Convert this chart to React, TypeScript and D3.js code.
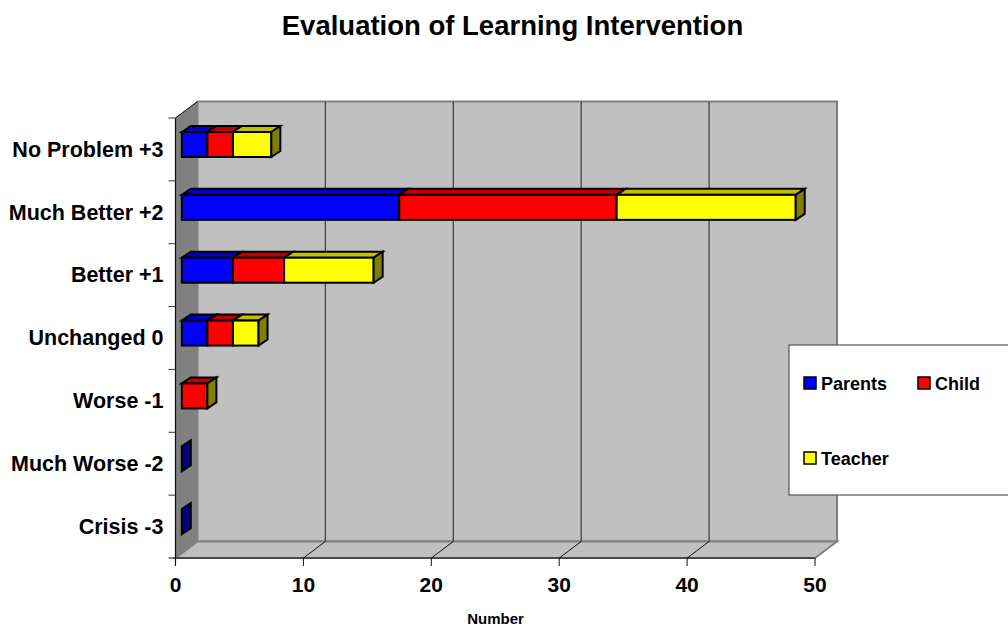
import React from "react";
import * as d3 from "d3";

const categories = ["No Problem +3", "Much Better +2", "Better +1", "Unchanged 0", "Worse -1", "Much Worse -2", "Crisis -3"];
const seriesNames = ["Parents", "Child", "Teacher"];
const parents = [2, 17, 4, 2, 0, 0, 0];
const child = [2, 17, 4, 2, 2, 0, 0];
const teacher = [3, 14, 7, 2, 0, 0, 0];
const xTicks = [0, 10, 20, 30, 40, 50];
const colors = ["#0000ff", "#ff0000", "#ffff00"];
const topColors = ["#0000c0", "#c00000", "#c0c000"];
const sideColors = ["#000080", "#800000", "#808000"];

const font = "Liberation Sans, Arial, sans-serif";
const X0 = 175.5, X1 = 815, YT = 118, YB = 558, DX = 22, DY = -16.5;
const BDX = 9, BDY = -6, BAR_OFF = 6.3, BAR_H = 25;

export default function App() {
  const x = d3.scaleLinear().domain([0, 50]).range([X0, X1]);
  const y = d3.scaleBand().domain(categories).range([YT, YB]);
  const unit = x(1) - x(0);
  const rows = categories.map((c, i) => {
    const vals = [parents[i], child[i], teacher[i]];
    const stack = d3.stack().keys(["0", "1", "2"])([{ 0: vals[0], 1: vals[1], 2: vals[2] }] as any);
    return { c, i, segs: stack.map((s, k) => ({ k, a: s[0][0], b: s[0][1] })) };
  });
  const poly = (p: number[][]) => p.map((q) => q.join(",")).join(" ");
  const barStroke = { stroke: "#000", strokeWidth: 2, strokeLinejoin: "miter" as const };
  return (
    <svg width={1008} height={628} style={{ position: "absolute", left: 0, top: 0, fontFamily: font }}>
      <rect width={1008} height={628} fill="#fff" />
      <text x={512.5} y={35} textAnchor="middle" fontSize={27.5} fontWeight="bold">Evaluation of Learning Intervention</text>

      {/* walls */}
      <polygon points={poly([[X0 + DX, YT + DY], [X1 + DX, YT + DY], [X1 + DX, YB + DY], [X0 + DX, YB + DY]])} fill="#c0c0c0" stroke="#808080" strokeWidth={2} />
      <polygon points={poly([[X0, YT], [X0 + DX, YT + DY], [X0 + DX, YB + DY], [X0, YB]])} fill="#808080" stroke="#808080" />
      <polygon points={poly([[X0, YB], [X0 + DX, YB + DY], [X1 + DX, YB + DY], [X1, YB]])} fill="#c0c0c0" stroke="#808080" strokeWidth={2} />

      {/* gridlines */}
      {xTicks.slice(1, -1).map((t) => (
        <g key={t}>
          <line x1={x(t) + DX} x2={x(t) + DX} y1={YT + DY} y2={YB + DY} stroke="#444" strokeWidth={1.3} />
          <line x1={x(t)} x2={x(t) + DX} y1={YB} y2={YB + DY} stroke="#111" strokeWidth={1} />
        </g>
      ))}

      {/* axes */}
      <line x1={X0} x2={X0} y1={YT} y2={YB + 7} stroke="#111" strokeWidth={1.2} />
      <line x1={X0 - 7} x2={X1} y1={YB} y2={YB} stroke="#111" strokeWidth={1.2} />
      <line x1={X0} x2={X0 + DX} y1={YT} y2={YT + DY} stroke="#111" />
      {categories.map((c) => (
        <line key={c} x1={X0 - 7} x2={X0} y1={y(c)!} y2={y(c)!} stroke="#333" />
      ))}
      {xTicks.map((t) => (
        <g key={t}>
          <line x1={x(t)} x2={x(t)} y1={YB} y2={YB + 8} stroke="#111" />
          <text x={x(t)} y={592} textAnchor="middle" fontSize={21} fontWeight="bold">{t}</text>
        </g>
      ))}
      {categories.map((c) => (
        <text key={c} x={163.5} y={y(c)! + y.bandwidth() / 2 + 7.3} textAnchor="end" fontSize={21.5} fontWeight="bold">{c}</text>
      ))}
      <text x={495.5} y={624} textAnchor="middle" fontSize={15} fontWeight="bold">Number</text>

      {/* bars */}
      {rows.map(({ c, segs }) => {
        const left = x(0) + BAR_OFF;
        const top = y(c)! + 14;
        const bot = top + BAR_H;
        const total = segs[2].b;
        if (total === 0) {
          return (
            <polygon key={c} points={poly([[left, bot], [left, top], [left + BDX, top + BDY], [left + BDX, bot + BDY]])} fill={sideColors[0]} {...barStroke} />
          );
        }
        const visible = segs.filter((s) => s.b > s.a);
        const last = segs[2];
        return (
          <g key={c}>
            {visible.map((s) => (
              <g key={s.k}>
                <polygon points={poly([[left + s.a * unit, top], [left + s.a * unit + BDX, top + BDY], [left + s.b * unit + BDX, top + BDY], [left + s.b * unit, top]])} fill={topColors[s.k]} {...barStroke} />
                <rect x={left + s.a * unit} y={top} width={(s.b - s.a) * unit} height={BAR_H} fill={colors[s.k]} {...barStroke} />
              </g>
            ))}
            <polygon points={poly([[left + last.b * unit, top], [left + last.b * unit + BDX, top + BDY], [left + last.b * unit + BDX, bot + BDY], [left + last.b * unit, bot]])} fill={sideColors[2]} {...barStroke} />
          </g>
        );
      })}

      {/* legend */}
      <rect x={789} y={345} width={225} height={150} fill="#fff" stroke="#555" strokeWidth={1.2} />
      {seriesNames.map((n, k) => {
        const lx = k === 1 ? 918 : 804;
        const ly = k === 2 ? 452 : 377;
        return (
          <g key={n}>
            <rect x={lx} y={ly} width={12} height={12} fill={colors[k]} stroke="#000" strokeWidth={1.5} />
            <text x={lx + 17} y={ly + 12.5} fontSize={18} fontWeight="bold">{n}</text>
          </g>
        );
      })}
    </svg>
  );
}
